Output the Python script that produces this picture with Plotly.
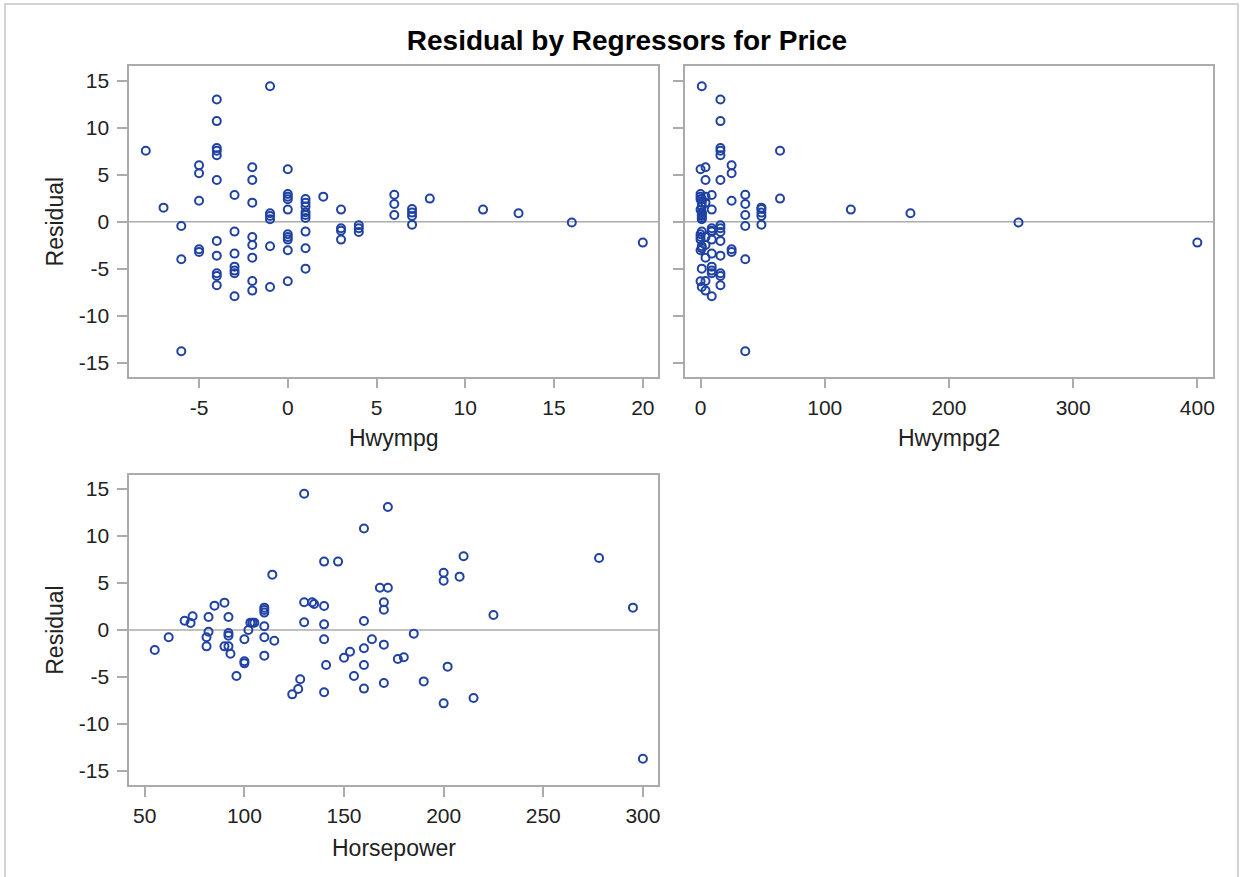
import plotly.graph_objects as go

# Residuals of the Price regression, paired with each regressor
hwympg = [-8, -7, -6, -6, -6,
          -5, -5, -5, -5, -5,
          -4, -4, -4, -4, -4, -4, -4, -4, -4, -4, -4,
          -3, -3, -3, -3, -3, -3, -3,
          -2, -2, -2, -2, -2, -2, -2, -2,
          -1, -1, -1, -1, -1, -1,
          0, 0, 0, 0, 0, 0, 0, 0, 0, 0,
          1, 1, 1, 1, 1, 1, 1, 1, 1,
          2,
          3, 3, 3, 3,
          4, 4, 4,
          6, 6, 6,
          7, 7, 7, 7,
          8, 11, 13, 16, 20]
hwympg2 = [64, 49, 36, 36, 36,
           25, 25, 25, 25, 25,
           16, 16, 16, 16, 16, 16, 16, 16, 16, 16, 16,
           9, 9, 9, 9, 9, 9, 9,
           4, 4, 4, 4, 4, 4, 4, 4,
           1, 1, 1, 1, 1, 1,
           0, 0, 0, 0, 0, 0, 0, 0, 0, 0,
           1, 1, 1, 1, 1, 1, 1, 1, 1,
           4,
           9, 9, 9, 9,
           16, 16, 16,
           36, 36, 36,
           49, 49, 49, 49,
           64, 121, 169, 256, 400]
residual = [7.55, 1.49, -0.46, -4.0, -13.8,
            6.0, 5.15, 2.23, -2.94, -3.22,
            13.0, 10.7, 7.84, 7.55, 7.06, 4.44, -2.05, -3.62, -5.49, -5.78, -6.77,
            2.84, -1.06, -3.4, -4.79, -5.21, -5.49, -7.94,
            5.79, 4.44, 2.02, -1.63, -2.48, -3.83, -6.31, -7.34,
            14.4, 0.89, 0.61, 0.26, -2.62, -6.95,
            5.57, 2.95, 2.66, 2.38, 1.28, -1.34, -1.63, -1.91, -3.04, -6.34,
            2.41, 2.02, 1.6, 1.0, 0.71, 0.39, -1.06, -2.83, -5.0,
            2.66,
            1.28, -0.70, -0.96, -1.91,
            -0.38, -0.70, -1.10,
            2.87, 1.88, 0.71,
            1.35, 0.96, 0.61, -0.32,
            2.45, 1.28, 0.89, -0.10, -2.23]

horsepower = [55, 62, 70, 73, 74, 81, 81, 82, 82, 85,
              90, 90, 92, 92, 92, 92, 93, 96, 100, 100,
              100, 102, 103, 104, 105, 110, 110, 110, 110, 110,
              110, 114, 115, 124, 127, 128, 130, 130, 130, 134,
              135, 140, 140, 140, 140, 140, 141, 147, 150, 153,
              155, 160, 160, 160, 160, 160, 164, 172, 168, 172,
              170, 170, 170, 170, 177, 180, 185, 190, 200, 200,
              200, 202, 208, 210, 215, 225, 278, 295, 300]
hp_residual = [-2.13, -0.78, 0.99, 0.75, 1.46, -0.78, -1.74, 1.38, -0.18, 2.59,
               2.91, -1.74, -1.74, 1.38, -0.32, -0.60, -2.52, -4.90, -3.33, -3.55,
               -0.99, 0.0, 0.78, 0.78, 0.78, 2.38, 2.13, 1.85, 0.39, -0.78,
               -2.73, 5.89, -1.14, -6.85, -6.28, -5.25, 14.5, 2.95, 0.82, 2.95,
               2.77, 7.28, 2.56, 0.60, -0.99, -6.63, -3.73, 7.28, -2.95, -2.31,
               -4.90, 10.8, 0.96, -1.95, -3.73, -6.24, -0.99, 13.1, 4.5, 4.5,
               2.95, 2.16, -1.56, -5.64, -3.09, -2.91, -0.39, -5.47, 6.1, 5.25,
               -7.81, -3.9, 5.68, 7.85, -7.24, 1.6, 7.67, 2.38, -13.7]

residual_ticks = [-15, -10, -5, 0, 5, 10, 15]
hwympg_ticks = [-5, 0, 5, 10, 15, 20]
hwympg2_ticks = [0, 100, 200, 300, 400]
horsepower_ticks = [50, 100, 150, 200, 250, 300]

W, H = 1250, 877
FONT = "Liberation Sans, Arial, sans-serif"
FRAME = "#a9abad"
MARK = "#1f42a3"
TEXT = "#222222"


def px_x(p):
    return p / W


def px_y(p):
    return 1 - p / H


def labels(values):
    # plain hyphen for negative numbers
    return [str(v) for v in values]


marker = dict(symbol="circle-open", size=8, color=MARK, line=dict(width=2, color=MARK))

fig = go.Figure()
fig.add_trace(go.Scatter(x=hwympg, y=residual, mode="markers", marker=marker,
                         xaxis="x", yaxis="y", showlegend=False))
fig.add_trace(go.Scatter(x=hwympg2, y=residual, mode="markers", marker=marker,
                         xaxis="x2", yaxis="y2", showlegend=False))
fig.add_trace(go.Scatter(x=horsepower, y=hp_residual, mode="markers", marker=marker,
                         xaxis="x3", yaxis="y3", showlegend=False))

axis_common = dict(showline=True, mirror=True, linecolor=FRAME, linewidth=1.5,
                   ticks="outside", ticklen=10, tickwidth=1.5, tickcolor=FRAME,
                   showgrid=False, zeroline=False,
                   tickfont=dict(family=FONT, size=21, color=TEXT))

left = [px_x(129.3), px_x(659.3)]
right = [px_x(686.0), px_x(1215.3)]
top = [px_y(376.7), px_y(66.3)]
bottom = [px_y(785.0), px_y(474.7)]
yrange = [-16.5, 16.53]


def xaxis(domain, anchor, rng, ticks):
    return dict(domain=domain, anchor=anchor, range=rng, tickvals=ticks,
                ticktext=labels(ticks), ticklabelstandoff=1, **axis_common)


def yaxis(domain, anchor, show=True):
    return dict(domain=domain, anchor=anchor, range=yrange, tickvals=residual_ticks,
                ticktext=labels(residual_ticks), showticklabels=show,
                ticklabelstandoff=4, **axis_common)


fig.update_layout(
    width=W, height=H,
    margin=dict(l=0, r=0, t=0, b=0),
    paper_bgcolor="white", plot_bgcolor="white",
    font=dict(family=FONT, color=TEXT),
    xaxis=xaxis(left, "y", [-8.94, 20.87], hwympg_ticks),
    yaxis=yaxis(top, "x"),
    xaxis2=xaxis(right, "y2", [-12.6, 412.9], hwympg2_ticks),
    yaxis2=yaxis(top, "x2", show=False),
    xaxis3=xaxis(left, "y3", [42.13, 307.7], horsepower_ticks),
    yaxis3=yaxis(bottom, "x3"),
    title=dict(text="<b>Residual by Regressors for Price</b>", x=px_x(627), y=px_y(40),
               xanchor="center", yanchor="middle",
               font=dict(family=FONT, size=28, color="#000000")),
)

# Horizontal reference line at zero residual in every cell
for xr, yr in [("x", "y"), ("x2", "y2"), ("x3", "y3")]:
    fig.add_shape(type="line", xref=f"{xr} domain", yref=yr, x0=0, x1=1, y0=0, y1=0,
                  line=dict(color=FRAME, width=1.5), layer="below")

# Outer frame around the whole graph
fig.add_shape(type="rect", xref="paper", yref="paper",
              x0=px_x(5), x1=px_x(1240), y0=px_y(900), y1=px_y(4),
              line=dict(color="#d3d3d3", width=2))

label_font = dict(family=FONT, size=23, color=TEXT)
titles = [
    ("Hwympg", (left[0] + left[1]) / 2, px_y(438), 0),
    ("Hwympg2", (right[0] + right[1]) / 2, px_y(438), 0),
    ("Horsepower", (left[0] + left[1]) / 2, px_y(848), 0),
    ("Residual", px_x(55), (top[0] + top[1]) / 2, -90),
    ("Residual", px_x(55), (bottom[0] + bottom[1]) / 2, -90),
]
for text, x, y, angle in titles:
    fig.add_annotation(text=text, x=x, y=y, xref="paper", yref="paper",
                       xanchor="center", yanchor="middle", showarrow=False,
                       textangle=angle, font=label_font)

fig.write_html("out.html")
